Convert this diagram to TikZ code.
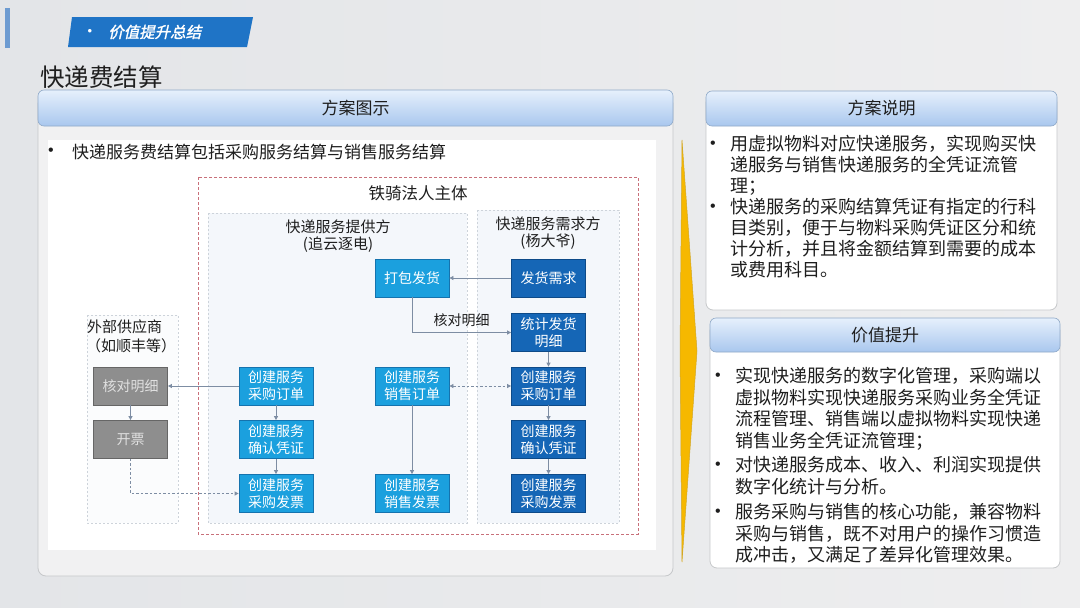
\documentclass[tikz,border=0pt]{standalone}
\usepackage{fontspec}
\setmainfont{Noto Sans CJK SC}
\newfontfamily\tabfont{Noto Sans CJK SC}[FakeSlant=0.22,FakeBold=1.6]
\newfontfamily\bulfont{Liberation Sans}
\usetikzlibrary{arrows.meta,calc}
\definecolor{bgl}{HTML}{E3E5E8}
\definecolor{bgr}{HTML}{EEEEEF}
\definecolor{barblue}{HTML}{6D9BD1}
\definecolor{tabblue}{HTML}{1F74C6}
\definecolor{hdtop}{HTML}{E6F0FC}
\definecolor{hdbot}{HTML}{A9C7EE}
\definecolor{hdbd}{HTML}{8FA9C8}
\definecolor{panelfill}{HTML}{F1F1F2}
\definecolor{panelbd}{HTML}{C6C8CA}
\definecolor{boxl}{HTML}{1BA0DE}
\definecolor{boxlbd}{HTML}{1573AE}
\definecolor{boxd}{HTML}{1566B6}
\definecolor{boxdbd}{HTML}{0D4A88}
\definecolor{boxg}{HTML}{8E8E8E}
\definecolor{boxgbd}{HTML}{666666}
\definecolor{regfill}{HTML}{F4F7FB}
\definecolor{regbd}{HTML}{CDD3DA}
\definecolor{reddash}{HTML}{C8707A}
\definecolor{arrc}{HTML}{7D8DA3}
\definecolor{gold}{HTML}{F6B800}
\definecolor{txt}{HTML}{1E1E1E}
\begin{document}
\begin{tikzpicture}[x=1pt,y=-1pt,
  boxbase/.style={minimum width=74pt,minimum height=38pt,inner sep=0pt,align=center,
    font=\fontsize{14}{17}\selectfont,line width=0.8pt},
  lbox/.style={boxbase,draw=boxlbd,fill=boxl,text=white},
  dbox/.style={boxbase,draw=boxdbd,fill=boxd,text=white},
  gbox/.style={boxbase,draw=boxgbd,fill=boxg,text=white!88!black},
  region/.style={draw=regbd,fill=regfill,line width=0.6pt,dash pattern=on 2pt off 2pt},
  reglabel/.style={font=\fontsize{15}{18}\selectfont,text=txt,inner sep=0pt},
  arr/.style={draw=arrc,line width=0.8pt,-{Triangle[length=4pt,width=4pt]}},
  darr/.style={arr,dash pattern=on 2.5pt off 2pt},
  hdr/.style={top color=hdtop,bottom color=hdbot,draw=hdbd,line width=0.6pt,rounded corners=6pt},
  hdtext/.style={font=\fontsize{17}{20}\selectfont,text=txt,inner sep=0pt},
  bodytext/.style={font=\fontsize{18}{21}\selectfont,text=txt,inner sep=0pt,align=left,anchor=north west},
  bullet/.style={font=\bulfont\fontsize{16}{18}\selectfont,text=txt,inner sep=0pt}
]
\useasboundingbox (0,0) rectangle (1080,608);
\shade[left color=bgl,right color=bgr] (0,0) rectangle (1080,608);

% top decorations
\fill[barblue] (5,8) rectangle (10,48);
\fill[tabblue] (72,17) -- (253,17) -- (247,47) -- (68,47) -- cycle;
\node[text=white,inner sep=0pt,font=\bulfont\fontsize{13}{16}\selectfont] (tabdot) at (90,32) {•};
\node[text=white,inner sep=0pt,anchor=west,font=\tabfont\fontsize{15.5}{18}\selectfont] (tabtxt) at (108,32) {价值提升总结};
\node[text=txt,inner sep=0pt,anchor=west,font=\fontsize{24.5}{28}\selectfont] (title) at (40,77) {快递费结算};

% left panel
\filldraw[fill=panelfill,draw=panelbd,line width=0.8pt,rounded corners=8pt] (38,96) rectangle (673,576);
\shadedraw[hdr] (38,90) rectangle (673,126);
\node[hdtext] (lhd) at (355.5,108) {方案图示};
\fill[white] (48,140) rectangle (656,550);
\node[bullet] (lb) at (51,152) {•};
\node[inner sep=0pt,anchor=west,text=txt,font=\fontsize{17}{20}\selectfont] (ltxt) at (72,152) {快递服务费结算包括采购服务结算与销售服务结算};

% regions
\draw[draw=reddash,line width=0.8pt,dash pattern=on 3pt off 2pt] (198,177) rectangle (638,534);
\node[inner sep=0pt,text=txt,font=\fontsize{16.5}{20}\selectfont] (legal) at (418,193) {铁骑法人主体};
\filldraw[region] (208,213) rectangle (467,523);
\filldraw[region] (477,210) rectangle (619,523);
\filldraw[region,fill=white!60!regfill] (87,315) rectangle (178,523);
\node[reglabel] (provA) at (338,227) {快递服务提供方};
\node[reglabel] (provB) at (338,244.5) {(追云逐电)};
\node[reglabel] (demA) at (548,224) {快递服务需求方};
\node[reglabel] (demB) at (548,242) {(杨大爷)};
\node[reglabel,anchor=west] (extA) at (87,327) {外部供应商};
\node[reglabel] (extB) at (131,346) {（如顺丰等）};

% boxes
\node[lbox] (pack) at (412,278) {打包发货};
\node[dbox] (need) at (548.5,278) {发货需求};
\node[dbox] (stat) at (548.5,332.5) {统计发货\\明细};
\node[dbox] (dpo) at (548.5,386) {创建服务\\采购订单};
\node[dbox] (dconf) at (548.5,439.5) {创建服务\\确认凭证};
\node[dbox] (dinv) at (548.5,493.5) {创建服务\\采购发票};
\node[lbox] (ppo) at (276,386) {创建服务\\采购订单};
\node[lbox] (pconf) at (276,439.5) {创建服务\\确认凭证};
\node[lbox] (pinv) at (276,493.5) {创建服务\\采购发票};
\node[lbox] (so) at (412,386) {创建服务\\销售订单};
\node[lbox] (sinv) at (412,493.5) {创建服务\\销售发票};
\node[gbox] (chk) at (130.5,386) {核对明细};
\node[gbox] (kp) at (130.5,439.5) {开票};

% connectors
\draw[arr] (need) -- (pack);
\draw[arr] (pack.south) |- node[pos=0.75,above=5pt,inner sep=0pt,text=txt,font=\fontsize{14}{17}\selectfont] (lblchk) {核对明细} (stat.west);
\draw[arr] (stat) -- (dpo);
\draw[arr] (dpo) -- (dconf);
\draw[arr] (dconf) -- (dinv);
\draw[darr,{Triangle[length=4pt,width=4pt]}-{Triangle[length=4pt,width=4pt]}] (so) -- (dpo);
\draw[arr] (so) -- (sinv);
\draw[arr] (ppo) -- (chk);
\draw[arr] (ppo) -- (pconf);
\draw[arr] (pconf) -- (pinv);
\draw[arr] (chk) -- (kp);
\draw[darr] (kp.south) |- (pinv.west);

% yellow arrow
\filldraw[fill=gold,draw=gold!70!gray,line width=0.5pt] (682,140) -- (697,351) -- (682,562) -- (680,351) -- cycle;

% right panel 1
\filldraw[fill=white,draw=panelbd,line width=0.8pt,rounded corners=7pt] (706,96) rectangle (1057,310);
\shadedraw[hdr] (706,91) rectangle (1057,126);
\node[hdtext] (r1hd) at (881.5,108.5) {方案说明};
\node[bullet] (r1b1) at (713,145) {•};
\node[bodytext] (r1t1) at (730,135.5) {用虚拟物料对应快递服务，实现购买快\\递服务与销售快递服务的全凭证流管\\理；};
\node[bullet] (r1b2) at (713,208) {•};
\node[bodytext] (r1t2) at (730,198.5) {快递服务的采购结算凭证有指定的行科\\目类别，便于与物料采购凭证区分和统\\计分析，并且将金额结算到需要的成本\\或费用科目。};

% right panel 2
\filldraw[fill=white,draw=panelbd,line width=0.8pt,rounded corners=7pt] (710,324) rectangle (1060,568);
\shadedraw[hdr] (710,318) rectangle (1060,352);
\node[hdtext] (r2hd) at (885,335) {价值提升};
\node[bullet] (r2b1) at (718,377) {•};
\node[bodytext,font=\fontsize{18}{21.5}\selectfont] (r2t1) at (735,367.5) {实现快递服务的数字化管理，采购端以\\虚拟物料实现快递服务采购业务全凭证\\流程管理、销售端以虚拟物料实现快递\\销售业务全凭证流管理；};
\node[bullet] (r2b2) at (718,466) {•};
\node[bodytext,font=\fontsize{18}{21.5}\selectfont] (r2t2) at (735,456.5) {对快递服务成本、收入、利润实现提供\\数字化统计与分析。};
\node[bullet] (r2b3) at (718,513) {•};
\node[bodytext,font=\fontsize{18}{21.5}\selectfont] (r2t3) at (735,503.5) {服务采购与销售的核心功能，兼容物料\\采购与销售，既不对用户的操作习惯造\\成冲击，又满足了差异化管理效果。};
\end{tikzpicture}
\end{document}
